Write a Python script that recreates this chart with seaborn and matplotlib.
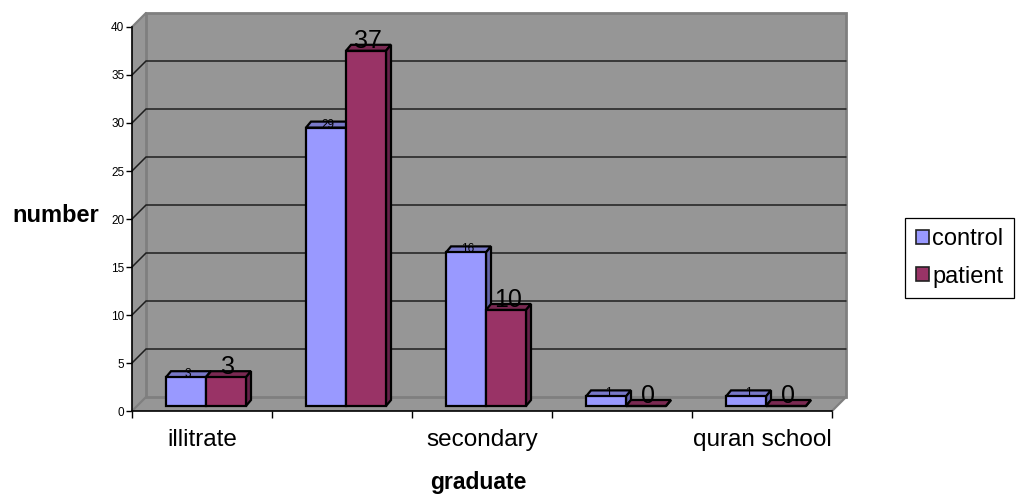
import matplotlib
matplotlib.use("Agg")
import matplotlib.pyplot as plt
from matplotlib.patches import Polygon, Rectangle, Patch
import numpy as np
import pandas as pd
import seaborn as sns

# ---- data -------------------------------------------------------------
categories = ["illitrate", "primary", "secondary", "university", "quran school"]
tick_labels = ["illitrate", "", "secondary", "", "quran school"]
series = ["control", "patient"]
control = [3, 29, 16, 1, 1]
patient = [3, 37, 10, 0, 0]

# ---- styling ----------------------------------------------------------
sns.set_style("white")
plt.rcParams["font.family"] = ["Liberation Sans", "DejaVu Sans"]
plt.rcParams["text.color"] = "black"
plt.rcParams["xtick.color"] = "black"
plt.rcParams["ytick.color"] = "black"
plt.rcParams["axes.labelcolor"] = "black"

front_colors = {"control": "#9999FF", "patient": "#993366"}
top_colors = {"control": "#7878C8", "patient": "#7A2952"}
side_colors = {"control": "#6666AA", "patient": "#66224A"}
wall_color = "#969696"
wall_edge = "#7F7F7F"

W, H = 1019, 499
fig = plt.figure(figsize=(W / 100, H / 100), dpi=100)
fig.patch.set_facecolor("white")

# front plane of the 3-D box (pixels)
L, B, AW, AH = 132, H - 411, 700, 384
n = len(categories)
ymax = 40
px_x = AW / n
px_y = AH / ymax


def ddx(p):
    return p / px_x


def ddy(p):
    return p / px_y


ax = fig.add_axes([L / W, B / H, AW / W, AH / H])
ax.set_xlim(-0.5, n - 0.5)
ax.set_ylim(0, ymax)
ax.set_facecolor("none")

# walls and floor, 14 px deep
wd_x, wd_y = ddx(14), ddy(14)
x_lo, x_hi = -0.5, n - 0.5
floor = Polygon([(x_lo, 0), (x_hi, 0), (x_hi + wd_x, wd_y), (x_lo + wd_x, wd_y)],
                closed=True, fc=wall_color, ec="none", zorder=0, clip_on=False)
side = Polygon([(x_lo, 0), (x_lo, ymax), (x_lo + wd_x, ymax + wd_y), (x_lo + wd_x, wd_y)],
               closed=True, fc=wall_color, ec="none", zorder=0, clip_on=False)
back = Rectangle((x_lo + wd_x, wd_y), n, ymax, fc=wall_color, ec=wall_edge,
                 lw=2.0, zorder=0.2, clip_on=False)
for p in (floor, side, back):
    ax.add_patch(p)

for v in range(5, ymax, 5):
    ax.plot([x_lo, x_lo + wd_x, x_hi + wd_x], [v, v + wd_y, v + wd_y],
            color="#1E1E1E", lw=1.1, zorder=0.5, clip_on=False)
for (x0, y0) in [(x_lo, ymax), (x_lo, 0), (x_hi, 0)]:
    ax.plot([x0, x0 + wd_x], [y0, y0 + wd_y], color=wall_edge, lw=1.6,
            zorder=0.6, clip_on=False)

# axes lines and ticks
for s in ("top", "right"):
    ax.spines[s].set_visible(False)
for s in ("left", "bottom"):
    ax.spines[s].set_color("black")
    ax.spines[s].set_linewidth(1.2)
    ax.spines[s].set_zorder(5)
ax.set_yticks(range(0, ymax + 1, 5))
ax.tick_params(axis="y", direction="out", length=4, width=1, labelsize=8.5,
               pad=1.5, colors="black", left=True)
ax.set_xticks(range(n))
ax.set_xticklabels(tick_labels, fontsize=17.5, color="black")
ax.set_xticks(np.arange(-0.5, n, 1.0), minor=True)
ax.tick_params(axis="x", which="major", length=0, pad=13)
ax.tick_params(axis="x", which="minor", direction="out", length=5, width=1,
               colors="black", bottom=True)
ax.grid(False)

# ---- bars (drawn a little into the box depth) --------------------------
bx, by = 4, 5
axb = fig.add_axes([(L + bx) / W, (B + by) / H, AW / W, AH / H])
df = pd.DataFrame({
    "education": categories * 2,
    "group": ["control"] * n + ["patient"] * n,
    "count": control + patient,
})
sns.barplot(data=df, x="education", y="count", hue="group", order=categories,
            hue_order=series, palette=front_colors, saturation=1, width=4 / 7,
            edgecolor="black", linewidth=1.6, errorbar=None, legend=False, ax=axb)
axb.set_xlim(-0.5, n - 0.5)
axb.set_ylim(0, ymax)
axb.set_facecolor("none")
axb.axis("off")

values = {"control": control, "patient": patient}
bd_x, bd_y = ddx(5), ddy(6)
for patch in list(axb.patches):
    x0, w, h = patch.get_x(), patch.get_width(), patch.get_height()
    xc = x0 + w / 2
    idx = int(round(xc))
    grp = "control" if xc < idx else "patient"
    z = 2 if grp == "control" else 3
    patch.set_zorder(z + 0.2)
    patch.set_clip_on(False)
    top = Polygon([(x0, h), (x0 + w, h), (x0 + w + bd_x, h + bd_y), (x0 + bd_x, h + bd_y)],
                  closed=True, fc=top_colors[grp], ec="black", lw=1.6,
                  joinstyle="miter", zorder=z + 0.1, clip_on=False)
    sidef = Polygon([(x0 + w, 0), (x0 + w, h), (x0 + w + bd_x, h + bd_y), (x0 + w + bd_x, bd_y)],
                    closed=True, fc=side_colors[grp], ec="black", lw=1.6,
                    joinstyle="miter", zorder=z + 0.1, clip_on=False)
    axb.add_patch(top)
    axb.add_patch(sidef)
    val = values[grp][idx]
    if grp == "control":
        axb.annotate(f"{val}", (xc, val), xytext=(2, 0), textcoords="offset pixels",
                     ha="center", va="baseline", fontsize=8.5, color="black",
                     zorder=6, annotation_clip=False)
    else:
        axb.annotate(f"{val}", (xc, val), xytext=(2, 3), textcoords="offset pixels",
                     ha="center", va="baseline", fontsize=18, color="black",
                     zorder=6, annotation_clip=False)

# ---- titles and legend -------------------------------------------------
fig.text(56 / W, 1 - 216 / H, "number", ha="center", va="center",
         fontsize=17, fontweight="bold", color="black")
fig.text(478 / W, 1 - 482 / H, "graduate", ha="center", va="center",
         fontsize=16.5, fontweight="bold", color="black")

handles = [Patch(fc=front_colors[s], ec="#222222", lw=1.2, label=s) for s in series]
leg = fig.legend(handles=handles, loc="center",
                 bbox_to_anchor=(959.5 / W, 1 - 258 / H), fontsize=17,
                 frameon=True, fancybox=False, shadow=False, framealpha=1,
                 edgecolor="black", handlelength=0.55, handleheight=0.55,
                 handletextpad=0.15, labelspacing=0.65, borderpad=0.45,
                 borderaxespad=0)
leg.get_frame().set_linewidth(0.9)
for t in leg.get_texts():
    t.set_color("black")

fig.savefig("out.png", dpi=100, facecolor="white")
